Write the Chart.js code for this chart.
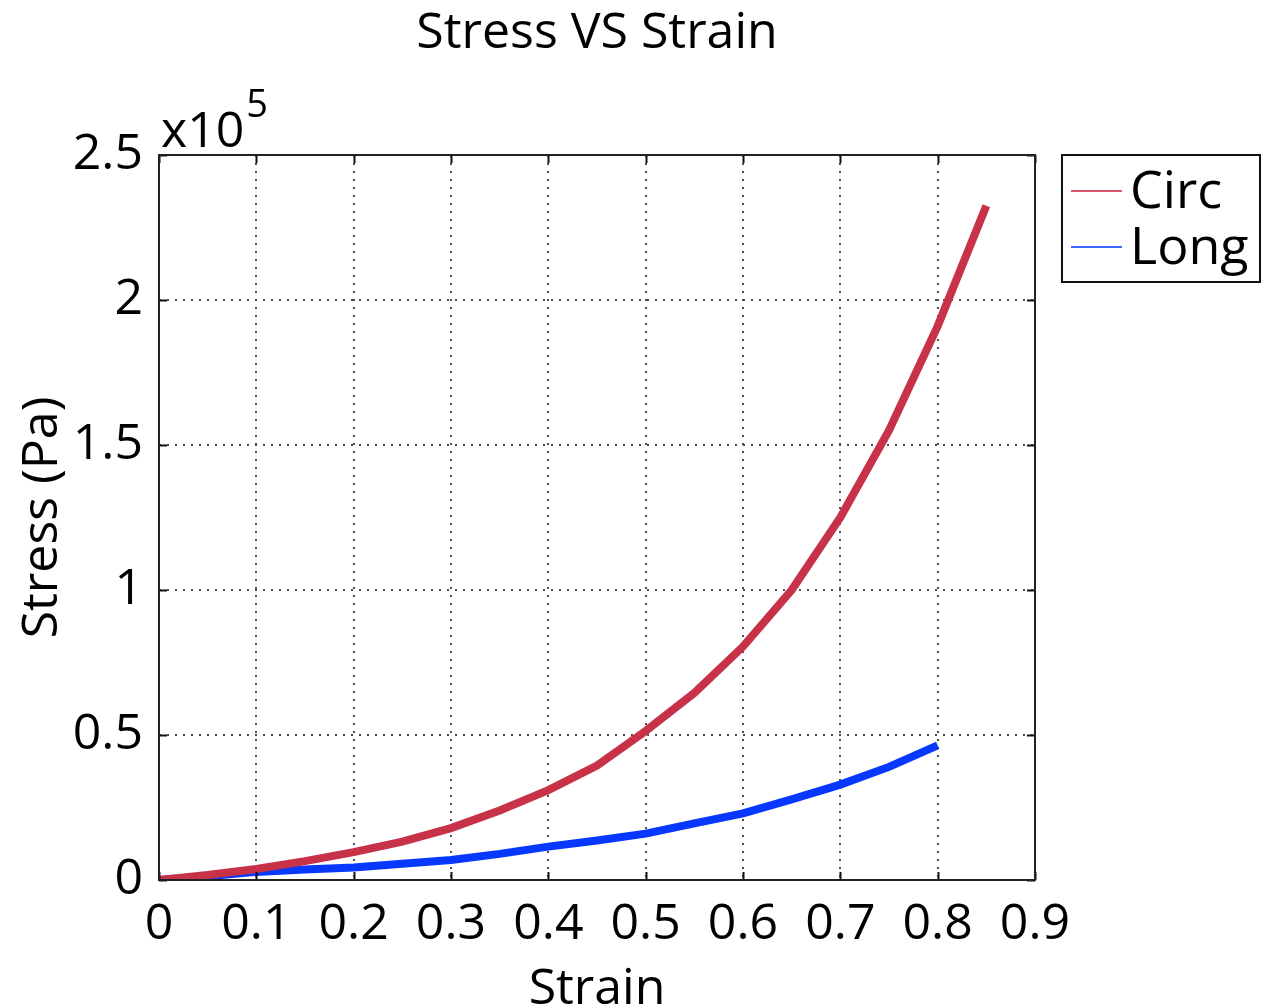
<!DOCTYPE html>
<html>
<head>
<meta charset="utf-8">
<title>Stress VS Strain</title>
<script src="https://cdn.jsdelivr.net/npm/chart.js@4"></script>
<style>
  html, body { margin: 0; padding: 0; background: #ffffff; }
  #wrap { width: 1271px; height: 1007px; }
</style>
</head>
<body>
<div id="wrap"><canvas id="chart" width="1271" height="1007"></canvas></div>
<script>
// Strain sample points for each test direction
const circStrain = [0, 0.05, 0.1, 0.15, 0.2, 0.25, 0.3, 0.35, 0.4, 0.45, 0.5, 0.55, 0.6, 0.65, 0.7, 0.75, 0.8, 0.85];
const circStress = [0, 1700, 3800, 6500, 9600, 13200, 17900, 24000, 31000, 39500, 51400, 64500, 80500, 100000, 125000, 155000, 191000, 232500];

const longStrain = [0, 0.05, 0.1, 0.15, 0.2, 0.25, 0.3, 0.35, 0.4, 0.45, 0.5, 0.55, 0.6, 0.65, 0.7, 0.75, 0.8];
const longStress = [0, 1300, 2800, 3600, 4300, 5600, 6900, 9000, 11500, 13600, 16000, 19500, 23000, 27800, 32900, 39000, 46400];

const seriesNames = ['Circ', 'Long'];
const xTickValues = [0, 0.1, 0.2, 0.3, 0.4, 0.5, 0.6, 0.7, 0.8, 0.9];
const yTickValues = [0, 50000, 100000, 150000, 200000, 250000];

const FONT = '"Open Sans", "DejaVu Sans", sans-serif';
const RED = '#C73248';
const BLUE = '#0638FF';

const toPoints = (xs, ys) => xs.map((x, i) => ({ x: x, y: ys[i] }));

// Frame, inward ticks, title, exponent label and legend box
const decorations = {
  id: 'decorations',
  afterDraw(chart) {
    const ctx = chart.ctx;
    const a = chart.chartArea;
    const xs = chart.scales.x, ys = chart.scales.y;
    ctx.save();

    // inward tick marks on all four sides
    ctx.strokeStyle = '#111';
    ctx.lineWidth = 2;
    const tl = 8;
    xTickValues.forEach(v => {
      const px = Math.round(xs.getPixelForValue(v)) + 0.5;
      ctx.beginPath();
      ctx.moveTo(px, a.bottom); ctx.lineTo(px, a.bottom - tl);
      ctx.moveTo(px, a.top); ctx.lineTo(px, a.top + tl);
      ctx.stroke();
    });
    yTickValues.forEach(v => {
      const py = Math.round(ys.getPixelForValue(v)) + 0.5;
      ctx.beginPath();
      ctx.moveTo(a.left, py); ctx.lineTo(a.left + tl, py);
      ctx.moveTo(a.right, py); ctx.lineTo(a.right - tl, py);
      ctx.stroke();
    });

    // axes box
    ctx.strokeStyle = '#222';
    ctx.lineWidth = 2;
    ctx.strokeRect(a.left, a.top, a.right - a.left, a.bottom - a.top);

    // chart title
    ctx.fillStyle = '#000';
    ctx.textAlign = 'center';
    ctx.textBaseline = 'middle';
    ctx.font = '50px ' + FONT;
    ctx.fillText('Stress VS Strain', (a.left + a.right) / 2, 34);

    // y-axis exponent
    ctx.textAlign = 'left';
    ctx.textBaseline = 'alphabetic';
    ctx.font = '50px ' + FONT;
    ctx.fillText('x10', a.left + 2, a.top - 8);
    const w = ctx.measureText('x10').width;
    ctx.font = '38px ' + FONT;
    ctx.fillText('5', a.left + 4 + w, a.top - 38);

    // legend
    const lx = 1062, ly = 155, lw = 198, lh = 127;
    ctx.fillStyle = '#fff';
    ctx.fillRect(lx, ly, lw, lh);
    ctx.strokeStyle = '#111';
    ctx.lineWidth = 2;
    ctx.strokeRect(lx, ly, lw, lh);
    const rows = [ly + 36, ly + 92];
    chart.data.datasets.forEach((ds, i) => {
      ctx.strokeStyle = ds.legendColor;
      ctx.lineWidth = 2;
      ctx.beginPath();
      ctx.moveTo(lx + 9, rows[i]);
      ctx.lineTo(lx + 60, rows[i]);
      ctx.stroke();
      ctx.fillStyle = '#000';
      ctx.font = '52px ' + FONT;
      ctx.textAlign = 'left';
      ctx.textBaseline = 'middle';
      ctx.fillText(ds.label, lx + 68, rows[i] + 2);
    });

    ctx.restore();
  }
};

new Chart(document.getElementById('chart'), {
  type: 'line',
  data: {
    datasets: [
      {
        label: seriesNames[0],
        data: toPoints(circStrain, circStress),
        borderColor: RED,
        legendColor: '#D95A6C',
        borderWidth: 8,
        pointRadius: 0,
        tension: 0,
        fill: false
      },
      {
        label: seriesNames[1],
        data: toPoints(longStrain, longStress),
        borderColor: BLUE,
        legendColor: '#3C64FF',
        borderWidth: 8,
        pointRadius: 0,
        tension: 0,
        fill: false
      }
    ]
  },
  options: {
    responsive: false,
    animation: false,
    layout: { padding: { top: 155, right: 236, left: 0, bottom: 0 } },
    plugins: {
      legend: { display: false },
      title: { display: false },
      tooltip: { enabled: false }
    },
    scales: {
      x: {
        type: 'linear',
        min: 0,
        max: 0.9,
        afterBuildTicks: s => { s.ticks = xTickValues.map(v => ({ value: v })); },
        afterFit: s => { s.height = 127; },
        ticks: {
          color: '#000',
          font: { family: FONT, size: 50 },
          padding: 15,
          maxRotation: 0,
          autoSkip: false,
          callback: v => String(Math.round(v * 10) / 10)
        },
        grid: {
          drawTicks: false,
          color: 'rgba(60,60,60,0.9)',
          lineWidth: 2
        },
        border: { display: false, dash: [2, 6] },
        title: {
          display: true,
          text: 'Strain',
          color: '#000',
          font: { family: FONT, size: 50, lineHeight: 1 },
          padding: { top: 0, bottom: -8 }
        }
      },
      y: {
        type: 'linear',
        min: 0,
        max: 250000,
        afterBuildTicks: s => { s.ticks = yTickValues.map(v => ({ value: v })); },
        afterFit: s => { s.width = 159; },
        ticks: {
          color: '#000',
          font: { family: FONT, size: 50 },
          padding: 16,
          callback: v => String(v / 100000)
        },
        grid: {
          drawTicks: false,
          color: 'rgba(60,60,60,0.9)',
          lineWidth: 2
        },
        border: { display: false, dash: [2, 6] },
        title: {
          display: true,
          text: 'Stress (Pa)',
          color: '#000',
          font: { family: FONT, size: 50, lineHeight: 1 },
          padding: { top: 18, bottom: 0 }
        }
      }
    }
  },
  plugins: [decorations]
});
</script>
</body>
</html>
